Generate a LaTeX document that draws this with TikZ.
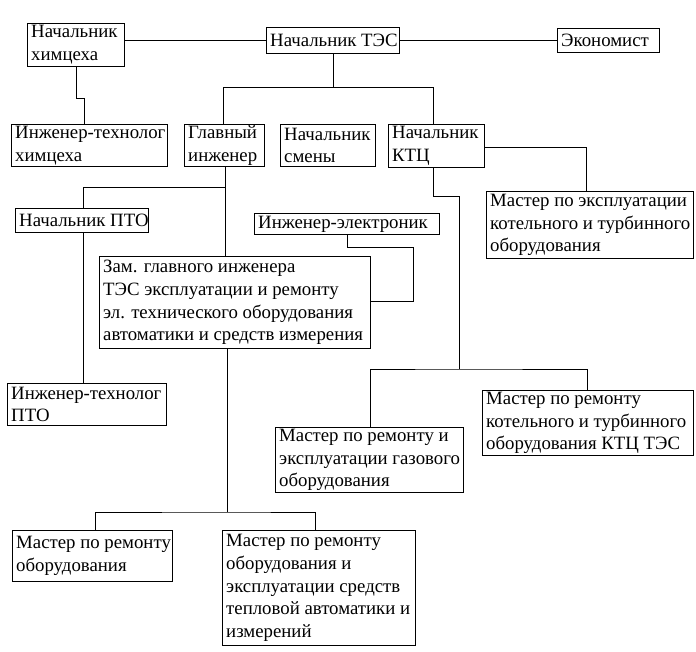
\documentclass[tikz,border=0pt]{standalone}
\usepackage{fontspec}
\setmainfont{Liberation Serif}
\newfontfamily\tnr{Liberation Serif}
\begin{document}
\begin{tikzpicture}[x=1pt,y=-1pt,
  boxr/.style={draw, line width=1pt, anchor=north west, inner sep=0pt},
  txt/.style={anchor=west, align=left, inner xsep=4pt, inner ysep=0pt, font=\tnr\fontsize{18.8}{22.8}\selectfont},
  conn/.style={line width=1pt}]
\fill[white] (0,0) rectangle (696,651);
\useasboundingbox (0,0) rectangle (696,651);
% boxes: name, x1, y1, w, h
\newcommand{\mybox}[6]{%
  \node[boxr, minimum width=#4pt, minimum height=#5pt] (#1) at (#2,#3) {};
  \node[txt] (#1-t) at (#1.west) {#6};}
\mybox{chem}{27}{23}{97}{43}{Начальник\\химцеха}
\mybox{tes}{266}{27}{133}{26}{Начальник ТЭС}
\mybox{econ}{557}{28}{102}{24}{Экономист}
\mybox{itch}{11}{124}{156}{42}{Инженер-технолог\\химцеха}
\mybox{gi}{184}{124}{80}{42}{Главный\\инженер}
\mybox{ns}{280}{124}{95}{42}{Начальник\\смены}
\mybox{ktc}{388}{124}{96}{43}{Начальник\\КТЦ}
\mybox{mekt}{486}{191}{207}{67}{Мастер по эксплуатации\\котельного и турбинного\\оборудования}
\mybox{pto}{15}{208}{133}{24}{Начальник ПТО}
\mybox{el}{254}{213}{185}{21}{Инженер-электроник}
\mybox{zam}{99}{256}{271}{92}{Зам. главного инженера\\ТЭС эксплуатации и ремонту\\эл. технического оборудования\\автоматики и средств измерения}
\mybox{ipto}{7}{383}{159}{42}{Инженер-технолог\\ПТО}
\mybox{mrkt}{482}{390}{211}{65}{Мастер по ремонту\\котельного и турбинного\\оборудования КТЦ ТЭС}
\mybox{mrg}{275}{427}{188}{65}{Мастер по ремонту и\\эксплуатации газового\\оборудования}
\mybox{mro}{12}{530}{160}{51}{Мастер по ремонту\\оборудования}
\mybox{mrt}{222}{530}{193}{115}{Мастер по ремонту\\оборудования и\\эксплуатации средств\\тепловой автоматики и\\измерений}
\coordinate (j1) at (459,369);
\coordinate (j2) at (227,512);
% connectors
\draw[conn] (chem.east |- tes.west) -- (tes.west);
\draw[conn] (tes.east) -- (econ.west);
\draw[conn] (chem.south) -- (chem.south |- 0,98) -| ([xshift=-5pt]itch.north);
\draw[conn] (tes.south) -- (tes.south |- 0,87);
\draw[conn] ([xshift=-1pt]gi.north) -- ([xshift=-1pt]gi.north |- 0,87) -| ([xshift=-3pt]ktc.north);
\draw[conn] (ktc.east |- 0,147) -| ([xshift=-3.5pt]mekt.north);
\draw[conn] ([xshift=-3pt]ktc.south) |- (459,196) -- (j1);
\draw[conn] ([xshift=1pt]mrg.north) |- (j1) -| ([xshift=-0.5pt]mrkt.north);
\draw[conn] ([xshift=1pt]gi.south) -- ([xshift=1pt]gi.south |- zam.north);
\draw[conn] ([xshift=1pt]gi.south |- 0,187) -| ([xshift=1.5pt]pto.north);
\draw[conn] (el.south) |- (413,247) |- (zam.east |- 0,301);
\draw[conn] ([xshift=1.5pt]pto.south) -- ([xshift=1.5pt]pto.south |- ipto.north);
\draw[conn] (zam.south -| j2) -- (j2);
\draw[conn] ([xshift=3pt]mro.north) |- (j2) -| ([xshift=-3.5pt]mrt.north);
\end{tikzpicture}
\end{document}
